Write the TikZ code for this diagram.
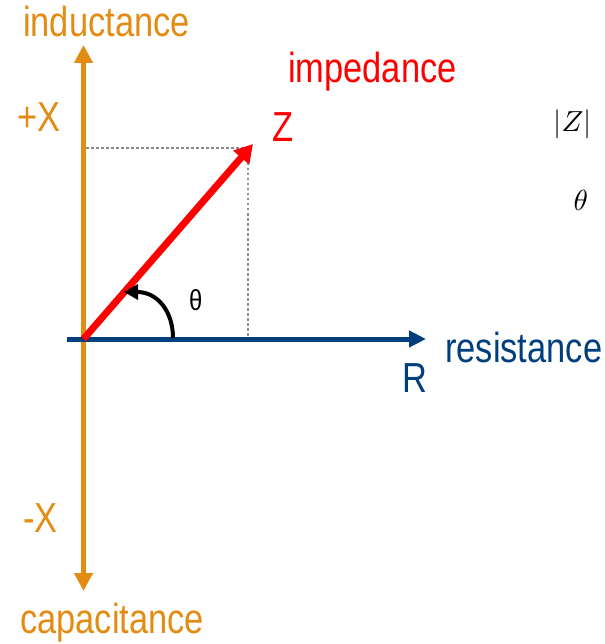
\documentclass[tikz,border=0pt]{standalone}
\usepackage{fontspec}
\setmainfont{Liberation Sans}[FakeStretch=0.82]
\usetikzlibrary{arrows.meta}
\definecolor{axorange}{RGB}{227,140,20}
\definecolor{axblue}{RGB}{0,63,125}
\definecolor{dotgray}{RGB}{140,140,140}
\tikzset{
  lbl/.style={inner sep=0pt, anchor=base west, font=\fontsize{42}{48}\selectfont},
  thlbl/.style={inner sep=0pt, anchor=base west, font=\fontsize{29}{34}\selectfont},
  mlbl/.style={inner sep=0pt, anchor=base west, scale=2.9},
  guide/.style={dotgray, line width=2.5pt, dash pattern=on 2.5pt off 2.5pt},
}
\begin{document}
\begin{tikzpicture}[x=1pt,y=-1pt]
\useasboundingbox (0,0) rectangle (604,644);
% coordinates
\coordinate (O) at (83.5,339);
\coordinate (Xtop) at (83.5,45);
\coordinate (Xbot) at (83.5,591);
\coordinate (Rl) at (67,339);
\coordinate (Rr) at (426,339);
\coordinate (Ztip) at (253,144);
\coordinate (P) at (248,148);
\coordinate (Py) at (86,148);
\coordinate (Q) at (248,337);
\coordinate (A0) at (173,338);
\coordinate (A1) at (124,292);
% guides
\draw[guide] (Py) -- (P);
\draw[guide] (P) -- (Q);
% axes
\draw[axorange, line width=5.5pt, {Triangle[length=18pt,width=18pt]}-{Triangle[length=18pt,width=18pt]}] (Xbot) -- (Xtop);
\draw[axblue, line width=5pt, -{Triangle[length=17pt,width=16pt]}] (Rl) -- (Rr);
% impedance vector
\draw[red, line width=7pt, -{Triangle[length=18pt,width=20pt]}] (O) -- (Ztip);
% angle
\draw[black, line width=4pt, -{Triangle[length=14pt,width=15pt]}] (A0) .. controls (173,312) and (158,292) .. (A1);
% labels
\node[lbl, text=axorange] (ind) at (23,37) {inductance};
\node[lbl, text=axorange] (px) at (17,132) {+X};
\node[lbl, text=axorange] (mx) at (23,532) {-X};
\node[lbl, text=axorange] (cap) at (20,633) {capacitance};
\node[lbl, text=red] (imp) at (288,83) {impedance};
\node[lbl, text=red] (zl) at (272,142) {Z};
\node[lbl, text=axblue] (res) at (445,362) {resistance};
\node[lbl, text=axblue] (rl) at (402,392) {R};
\node[thlbl] (th) at (189,310) {θ};
\node[mlbl] (absz) at (553,132) {$|Z|$};
\node[mlbl] (thm) at (573,211) {$\theta$};
\end{tikzpicture}
\end{document}
